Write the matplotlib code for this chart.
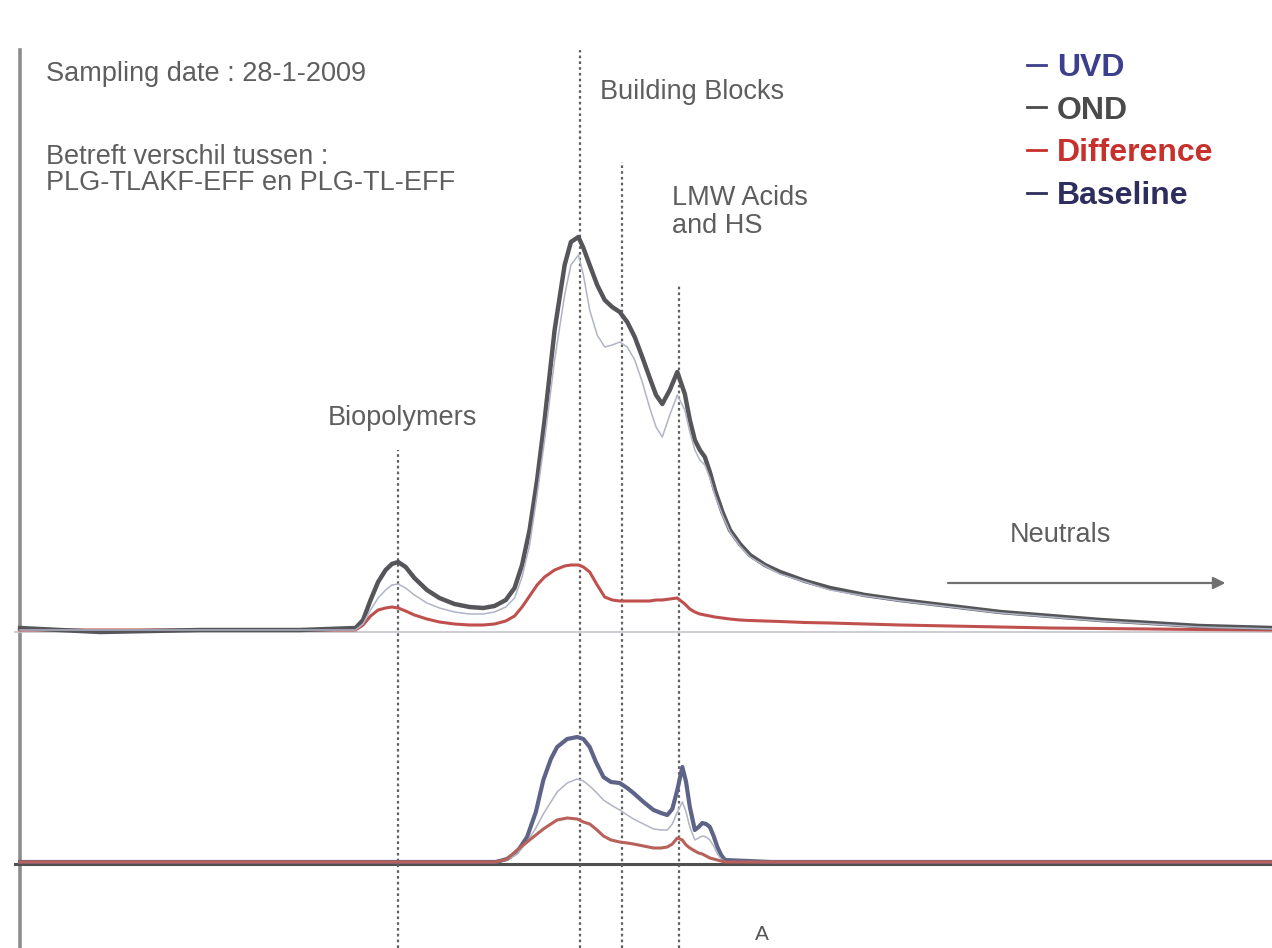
import matplotlib
matplotlib.use('Agg')
import matplotlib.pyplot as plt
from matplotlib.lines import Line2D

plt.rcParams['font.family'] = ['Liberation Sans', 'DejaVu Sans']

# retention time (min) and detector signal (a.u.), upper trace pair
top_time = [0, 6.4, 14.4, 22.4, 26.8, 27.4, 28.0, 28.6, 29.2, 29.7,
            30.2, 30.8, 31.5, 32.5, 33.5, 34.7, 35.9, 37.0, 37.9, 38.8,
            39.5, 40.1, 40.7, 41.3, 41.9, 42.7, 43.5, 44.0, 44.6, 45.0,
            45.5, 46.1, 46.7, 47.3, 47.9, 48.5, 49.1, 49.7, 50.3, 50.8,
            51.3, 51.9, 52.5, 53.1, 53.5, 53.9, 54.3, 54.7, 55.1, 55.5,
            56.1, 56.7, 57.5, 58.3, 59.5, 60.7, 62.7, 64.7, 67.5, 70.3,
            74.3, 78.3, 82.3, 86.3, 90.3, 94.2, 100]
ond_top = [0.2, -0.2, 0, 0, 0.2, 1.0, 3.0, 4.8, 6.0, 6.6,
           6.8, 6.3, 5.2, 4.0, 3.2, 2.6, 2.3, 2.2, 2.4, 3.0,
           4.2, 6.5, 10.0, 15.0, 21.0, 30.0, 36.5, 38.8, 39.3, 38.2,
           36.5, 34.5, 33.0, 32.3, 31.8, 30.8, 29.3, 27.3, 25.2, 23.5,
           22.6, 24.0, 25.8, 23.6, 21.0, 19.0, 18.0, 17.3, 15.8, 14.0,
           11.8, 10.0, 8.6, 7.5, 6.5, 5.8, 4.9, 4.2, 3.5, 3.0,
           2.4, 1.8, 1.4, 1.0, 0.7, 0.4, 0.2]
uvd_top = [0, 0, 0, 0, 0, 0.6, 2.0, 3.2, 4.0, 4.5,
           4.6, 4.2, 3.5, 2.7, 2.2, 1.8, 1.6, 1.6, 1.8, 2.3,
           3.2, 5.3, 8.5, 13.5, 19.0, 27.0, 33.5, 36.5, 37.5, 35.5,
           32.0, 29.5, 28.3, 28.5, 28.8, 28.3, 27.0, 24.8, 22.2, 20.3,
           19.3, 21.5, 23.5, 22.0, 19.8, 18.0, 17.0, 16.5, 15.2, 13.5,
           11.5, 9.8, 8.4, 7.3, 6.4, 5.6, 4.8, 4.0, 3.4, 2.9,
           2.3, 1.7, 1.3, 0.9, 0.6, 0.3, 0.1]
diff_top = [0, 0, 0, 0, 0, 0.5, 1.4, 2.0, 2.2, 2.3,
            2.2, 1.9, 1.5, 1.1, 0.8, 0.6, 0.5, 0.5, 0.6, 0.9,
            1.4, 2.3, 3.4, 4.5, 5.3, 6.0, 6.4, 6.5, 6.5, 6.3,
            5.8, 4.5, 3.3, 3.0, 2.9, 2.9, 2.9, 2.9, 2.9, 3.0,
            3.0, 3.1, 3.2, 2.6, 2.1, 1.8, 1.6, 1.5, 1.4, 1.3,
            1.2, 1.1, 1.0, 0.95, 0.9, 0.85, 0.75, 0.7, 0.6, 0.5,
            0.4, 0.3, 0.2, 0.15, 0.1, 0.05, 0]

# lower trace pair
bot_time = [0, 10, 20, 30, 38.0, 38.9, 39.7, 40.5, 41.2, 41.8,
            42.4, 42.9, 43.7, 44.5, 45.0, 45.5, 46.0, 46.6, 47.2, 47.9,
            48.5, 49.0, 49.8, 50.6, 51.2, 51.7, 52.1, 52.5, 52.9, 53.2,
            53.5, 53.9, 54.2, 54.5, 54.8, 55.1, 55.4, 55.7, 56.0, 56.3,
            60, 70, 80, 90, 100]
uvd_bot = [0, 0, 0, 0, 0, 0.3, 1.0, 2.5, 5.0, 8.2,
           10.3, 11.5, 12.3, 12.5, 12.3, 11.5, 10.0, 8.5, 8.0, 7.9,
           7.4, 6.9, 6.0, 5.2, 4.9, 4.7, 5.3, 7.2, 9.5, 8.0,
           5.5, 3.2, 3.5, 3.9, 3.8, 3.5, 2.6, 1.5, 0.7, 0.2,
           0, 0, 0, 0, 0]
thin_bot = [0, 0, 0, 0, 0, 0.2, 0.8, 2.0, 3.4, 4.8,
            6.0, 7.0, 7.9, 8.3, 8.1, 7.6, 7.0, 6.2, 5.7, 5.2,
            4.7, 4.3, 3.8, 3.3, 3.2, 3.2, 3.8, 5.0, 6.0, 5.0,
            3.5, 2.2, 2.4, 2.6, 2.5, 2.2, 1.6, 0.8, 0.3, 0,
            0, 0, 0, 0, 0]
diff_bot = [0, 0, 0, 0, 0, 0.3, 1.2, 2.0, 2.7, 3.3,
            3.8, 4.2, 4.4, 4.3, 4.0, 3.8, 3.3, 2.6, 2.2, 2.0,
            1.9, 1.8, 1.6, 1.4, 1.4, 1.5, 1.8, 2.4, 2.2, 1.7,
            1.4, 1.1, 0.9, 0.8, 0.6, 0.4, 0.3, 0.2, 0.1, 0,
            0, 0, 0, 0, 0]

# fraction markers: retention time and top of the dotted line
fraction_time = [30.2, 44.7, 48.1, 52.6]
fraction_top = [41.2, 81.2, 70.0, 57.7]

TOP_OFFSET = 23.2
YMIN, YMAX = -8.6, 86.2

fig = plt.figure(figsize=(12.72, 9.48), dpi=100)
ax = fig.add_axes([0, 0, 1, 1])
ax.set_xlim(-1.6, 100)
ax.set_ylim(YMIN, YMAX)
ax.axis('off')

# left axis and baselines
ax.axvline(0, ymin=0, ymax=(948 - 50) / 948, color='#8c8c8c', lw=2.6)
ax.axhline(TOP_OFFSET - 0.2, xmin=0.012, color='#c4c4cc', lw=1.2)
ax.axhline(-0.2, xmin=0.012, color='#505050', lw=2.2)

ax.vlines(fraction_time, YMIN, fraction_top, colors='#606060',
          linestyles=(0, (1.2, 1.4)), lw=1.6)

top_ond = [v + TOP_OFFSET for v in ond_top]
top_uvd = [v + TOP_OFFSET for v in uvd_top]
top_diff = [v + TOP_OFFSET for v in diff_top]
ax.plot(top_time, top_diff, color='#c0504d', lw=2.2)
ax.plot(top_time, top_ond, color='#56565a', lw=3.2, solid_joinstyle='round')
ax.plot(top_time, top_uvd, color='#b0b4c6', lw=1.1)

ax.plot(bot_time, uvd_bot, color='#5e6388', lw=3.0, solid_joinstyle='round')
ax.plot(bot_time, thin_bot, color='#b0b4c6', lw=1.1)
ax.plot(bot_time, diff_bot, color='#b8605a', lw=2.2)

# neutrals arrow
ax.annotate('', xy=(96.5, 27.9), xytext=(73.9, 27.9),
            arrowprops=dict(arrowstyle='-|>', color='#707070', lw=1.6,
                            mutation_scale=18))


def px_text(x, y, s, **kw):
    fig.text(x / 1272, 1 - y / 948, s, va='center', **kw)


txt_col = '#5e5e5e'
fs = 19.5
px_text(46, 74, 'Sampling date : 28-1-2009', fontsize=fs, color=txt_col)
px_text(46, 157, 'Betreft verschil tussen :', fontsize=fs, color=txt_col)
px_text(46, 183, 'PLG-TLAKF-EFF en PLG-TL-EFF', fontsize=fs, color=txt_col)
px_text(328, 418, 'Biopolymers', fontsize=fs, color=txt_col)
px_text(600, 92, 'Building Blocks', fontsize=fs, color=txt_col)
px_text(672, 198, 'LMW Acids', fontsize=fs, color=txt_col)
px_text(672, 226, 'and HS', fontsize=fs, color=txt_col)
px_text(1010, 535, 'Neutrals', fontsize=fs, color=txt_col)
fig.text(762 / 1272, 1 - 944 / 948, 'A', fontsize=15, color='#555555',
         va='bottom', ha='center')

handles = [Line2D([], [], color='#3c3f8c', lw=2, label='UVD'),
           Line2D([], [], color='#4a4a4a', lw=2, label='OND'),
           Line2D([], [], color='#c8302c', lw=2, label='Difference'),
           Line2D([], [], color='#2e2e5e', lw=2, label='Baseline')]
fig.legend(handles=handles, loc='upper left', bbox_to_anchor=(998 / 1272, 1 - 24 / 948),
           frameon=False, labelcolor='linecolor', handlelength=0.6,
           handletextpad=0.35, labelspacing=0.4,
           prop={'size': 23, 'weight': 'bold'})

fig.savefig('out.png', dpi=100)
